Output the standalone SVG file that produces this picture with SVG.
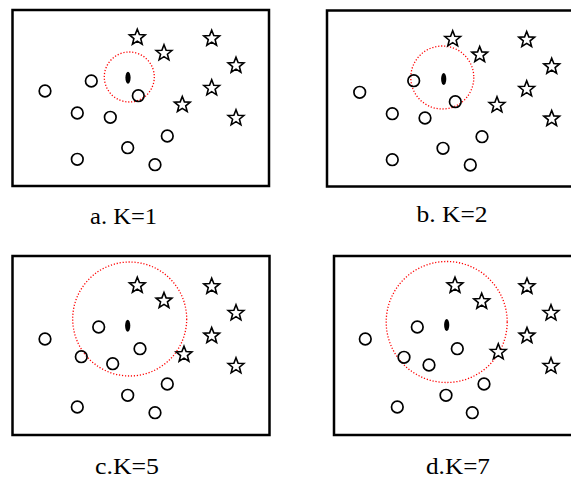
<svg xmlns="http://www.w3.org/2000/svg" xmlns:xlink="http://www.w3.org/1999/xlink" width="571" height="480" viewBox="0 0 571 480">
<style>
.frame{fill:none;stroke:#000;stroke-width:2.5}
.pt{fill:none;stroke:#000;stroke-width:1.7}
.star{fill:#fff;stroke:#000;stroke-width:1.6;stroke-linejoin:miter}
.q{fill:#000}
.rad{fill:none;stroke:#f00;stroke-width:1.3;stroke-dasharray:1.2 1.8}
.lbl{font-family:"Liberation Serif","Times New Roman",serif;font-size:23px;fill:#000}
</style>
<defs>
<circle id="c" r="5.8" class="pt"/>
<path id="s" class="star" d="M0,-8.3 L2.116,-2.912 L7.894,-2.565 L3.424,1.112 L4.879,6.715 L0,3.6 L-4.879,6.715 L-3.424,1.112 L-7.894,-2.565 L-2.116,-2.912 Z"/>
</defs>
<rect width="571" height="480" fill="#fff"/>

<g id="panel-a">
<rect class="frame" x="12.5" y="10" width="256.5" height="176"/>
<circle class="rad" cx="129.3" cy="77" r="25"/>
<use xlink:href="#c" x="45" y="91"/>
<use xlink:href="#c" x="91.3" y="81"/>
<use xlink:href="#c" x="77.3" y="113"/>
<use xlink:href="#c" x="110.3" y="117.3"/>
<use xlink:href="#c" x="138.3" y="95.7"/>
<use xlink:href="#c" x="167.3" y="136"/>
<use xlink:href="#c" x="127.7" y="147.7"/>
<use xlink:href="#c" x="77.3" y="159.3"/>
<use xlink:href="#c" x="155" y="164.7"/>
<use xlink:href="#s" x="137.3" y="37.5"/>
<use xlink:href="#s" x="164" y="53.1"/>
<use xlink:href="#s" x="211.7" y="38.5"/>
<use xlink:href="#s" x="236" y="65.5"/>
<use xlink:href="#s" x="211.7" y="88.1"/>
<use xlink:href="#s" x="182.3" y="104.8"/>
<use xlink:href="#s" x="236" y="118.1"/>
<ellipse class="q" cx="128" cy="77.7" rx="2.6" ry="6"/>
<text class="lbl" x="90" y="224" textLength="67" lengthAdjust="spacingAndGlyphs">a. K=1</text>
</g>

<g id="panel-b">
<rect class="frame" x="327" y="10.5" width="260" height="176"/>
<circle class="rad" cx="442.3" cy="77.5" r="31.5"/>
<use xlink:href="#c" x="359.7" y="92.3"/>
<use xlink:href="#c" x="413.7" y="80.7"/>
<use xlink:href="#c" x="392.3" y="113.7"/>
<use xlink:href="#c" x="425" y="118"/>
<use xlink:href="#c" x="455.3" y="101.7"/>
<use xlink:href="#c" x="482" y="136.7"/>
<use xlink:href="#c" x="443" y="148.3"/>
<use xlink:href="#c" x="392.3" y="159.7"/>
<use xlink:href="#c" x="470.3" y="165"/>
<use xlink:href="#s" x="452.7" y="39.1"/>
<use xlink:href="#s" x="479.7" y="54.8"/>
<use xlink:href="#s" x="526.7" y="39.8"/>
<use xlink:href="#s" x="551.7" y="66.5"/>
<use xlink:href="#s" x="526.7" y="89.1"/>
<use xlink:href="#s" x="497" y="105.1"/>
<use xlink:href="#s" x="551.7" y="118.8"/>
<ellipse class="q" cx="443.7" cy="79" rx="2.6" ry="6"/>
<text class="lbl" x="416.5" y="221.5" textLength="71" lengthAdjust="spacingAndGlyphs">b. K=2</text>
</g>

<g id="panel-c">
<rect class="frame" x="12.5" y="256" width="257" height="179"/>
<circle class="rad" cx="129.7" cy="319" r="57"/>
<use xlink:href="#c" x="45" y="339"/>
<use xlink:href="#c" x="98.7" y="327"/>
<use xlink:href="#c" x="81.3" y="356.7"/>
<use xlink:href="#c" x="112.7" y="363.7"/>
<use xlink:href="#c" x="140" y="348.7"/>
<use xlink:href="#c" x="167.3" y="384"/>
<use xlink:href="#c" x="127.7" y="395.3"/>
<use xlink:href="#c" x="77.3" y="407"/>
<use xlink:href="#c" x="155" y="412.7"/>
<use xlink:href="#s" x="137.3" y="285.5"/>
<use xlink:href="#s" x="164" y="300.8"/>
<use xlink:href="#s" x="211.7" y="286.5"/>
<use xlink:href="#s" x="236" y="313.1"/>
<use xlink:href="#s" x="211.7" y="335.8"/>
<use xlink:href="#s" x="184" y="354.5"/>
<use xlink:href="#s" x="236" y="366.1"/>
<ellipse class="q" cx="127.7" cy="325.7" rx="2.6" ry="6"/>
<text class="lbl" x="95" y="474" textLength="64" lengthAdjust="spacingAndGlyphs">c.K=5</text>
</g>

<g id="panel-d">
<rect class="frame" x="334" y="256" width="260" height="179"/>
<circle class="rad" cx="446.7" cy="322" r="60.5"/>
<use xlink:href="#c" x="365.3" y="339"/>
<use xlink:href="#c" x="417.3" y="327"/>
<use xlink:href="#c" x="404" y="357.3"/>
<use xlink:href="#c" x="429" y="365"/>
<use xlink:href="#c" x="457.3" y="348.7"/>
<use xlink:href="#c" x="484" y="384"/>
<use xlink:href="#c" x="446" y="395.3"/>
<use xlink:href="#c" x="397.3" y="407"/>
<use xlink:href="#c" x="472.3" y="412.7"/>
<use xlink:href="#s" x="455" y="285.5"/>
<use xlink:href="#s" x="481.7" y="301.5"/>
<use xlink:href="#s" x="527" y="286.5"/>
<use xlink:href="#s" x="551" y="313.1"/>
<use xlink:href="#s" x="527" y="335.8"/>
<use xlink:href="#s" x="498.3" y="352.1"/>
<use xlink:href="#s" x="551" y="366.1"/>
<ellipse class="q" cx="446.7" cy="325" rx="2.6" ry="6"/>
<text class="lbl" x="426" y="473.5" textLength="64" lengthAdjust="spacingAndGlyphs">d.K=7</text>
</g>
</svg>
